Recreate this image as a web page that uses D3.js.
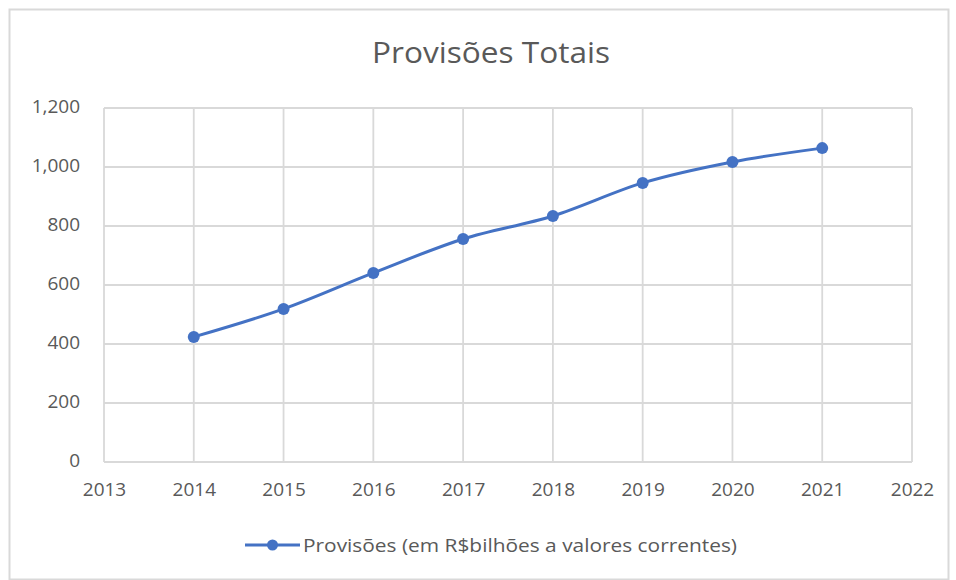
<!DOCTYPE html>
<html>
<head>
<meta charset="utf-8">
<script src="https://cdn.jsdelivr.net/npm/d3@7"></script>
<style>
  html, body { margin: 0; padding: 0; background: #fff; }
  svg { display: block; }
  text { font-family: 'Open Sans', 'Noto Sans', sans-serif; fill: #595959; }
</style>
</head>
<body>
<svg id="chart" width="956" height="580"></svg>
<script>
// data
const years = [2014, 2015, 2016, 2017, 2018, 2019, 2020, 2021];
const provisoes = [424, 519, 641, 756, 834, 946, 1017, 1064];
const xTicks = [2013, 2014, 2015, 2016, 2017, 2018, 2019, 2020, 2021, 2022];
const yTicks = [0, 200, 400, 600, 800, 1000, 1200];
const title = 'Provisões Totais';
const seriesName = 'Provisões (em R$bilhões a valores correntes)';

const W = 956, H = 580;
const plot = { left: 104, right: 912, top: 108, bottom: 462 };
const BLUE = '#4472c4';
const GRID = '#d9d9d9';

const svg = d3.select('#chart');

// outer chart frame
svg.append('rect')
  .attr('x', 9.5).attr('y', 9.5)
  .attr('width', W - 17).attr('height', H - 10)
  .attr('fill', '#fff').attr('stroke', GRID).attr('stroke-width', 2);

svg.append('text')
  .attr('x', 491).attr('y', 63)
  .attr('text-anchor', 'middle')
  .attr('font-size', 29)
  .attr('textLength', 238).attr('lengthAdjust', 'spacingAndGlyphs')
  .text(title);

const x = d3.scaleLinear().domain([2013, 2022]).range([plot.left, plot.right]);
const y = d3.scaleLinear().domain([0, 1200]).range([plot.bottom, plot.top]);

// gridlines
const grid = svg.append('g');
grid.selectAll('line.h').data(yTicks).enter().append('line')
  .attr('class', 'h')
  .attr('x1', plot.left).attr('x2', plot.right)
  .attr('y1', d => y(d)).attr('y2', d => y(d))
  .attr('stroke', GRID).attr('stroke-width', 1.8);
grid.selectAll('line.v').data(xTicks).enter().append('line')
  .attr('class', 'v')
  .attr('y1', plot.top).attr('y2', plot.bottom)
  .attr('x1', d => x(d)).attr('x2', d => x(d))
  .attr('stroke', GRID).attr('stroke-width', 1.8);

// axes (labels only)
const yAxis = svg.append('g')
  .attr('transform', `translate(${plot.left - 24},0)`)
  .call(d3.axisLeft(y).tickValues(yTicks).tickSize(0).tickPadding(0).tickFormat(d3.format(',')));
const xAxis = svg.append('g')
  .attr('transform', `translate(0,${plot.bottom + 16})`)
  .call(d3.axisBottom(x).tickValues(xTicks).tickSize(0).tickPadding(0).tickFormat(d3.format('d')));
[yAxis, xAxis].forEach(a => {
  a.select('.domain').remove();
  a.selectAll('text')
    .attr('font-size', 19)
    .attr('fill', '#595959')
    .style('font-family', "'Open Sans', 'Noto Sans', sans-serif");
});
yAxis.selectAll('text').attr('dy', '0.25em');
xAxis.selectAll('text').attr('dy', '0.95em');

// series
const pts = years.map((yr, i) => [yr, provisoes[i]]);
svg.append('path')
  .datum(pts)
  .attr('fill', 'none')
  .attr('stroke', BLUE).attr('stroke-width', 3)
  .attr('stroke-linejoin', 'round')
  .attr('d', d3.line().x(d => x(d[0])).y(d => y(d[1])).curve(d3.curveMonotoneX));
svg.append('g').selectAll('circle').data(pts).enter().append('circle')
  .attr('cx', d => x(d[0])).attr('cy', d => y(d[1]))
  .attr('r', 6).attr('fill', BLUE);

// legend
const lg = svg.append('g').attr('transform', 'translate(245,545)');
lg.append('line').attr('x1', 0).attr('x2', 55).attr('y1', 0).attr('y2', 0)
  .attr('stroke', BLUE).attr('stroke-width', 3);
lg.append('circle').attr('cx', 27.5).attr('cy', 0).attr('r', 5.5).attr('fill', BLUE);
lg.append('text')
  .attr('x', 58).attr('y', 0).attr('dy', '0.35em')
  .attr('font-size', 19)
  .attr('textLength', 434).attr('lengthAdjust', 'spacingAndGlyphs')
  .text(seriesName);
</script>
</body>
</html>
